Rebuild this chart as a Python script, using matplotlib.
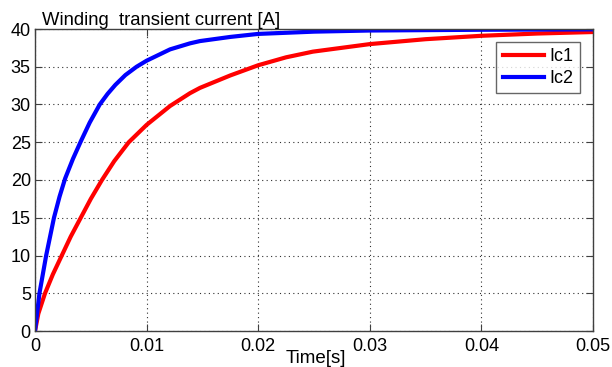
import matplotlib
matplotlib.use("Agg")
import matplotlib.pyplot as plt
import numpy as np

plt.rcParams['font.family'] = ['Liberation Sans', 'DejaVu Sans']

t_ic1 = [0, 0.0003, 0.0009, 0.0016, 0.0024, 0.0032, 0.0041, 0.005, 0.006, 0.0071,
         0.0084, 0.01, 0.0121, 0.01389, 0.01478, 0.0175, 0.02, 0.0225, 0.0249, 0.03,
         0.035, 0.04, 0.045, 0.05]
ic1 = [0, 2.3, 5, 7.5, 10, 12.5, 15, 17.5, 20, 22.5,
       25, 27.3, 29.8, 31.5, 32.2, 33.85, 35.2, 36.25, 37.0, 38.0,
       38.65, 39.1, 39.4, 39.6]

t_ic2 = [0, 0.0002, 0.0004, 0.0007, 0.001, 0.00135, 0.0017, 0.0022, 0.0027, 0.0034,
         0.0041, 0.0049, 0.0058, 0.0065, 0.0072, 0.0081, 0.0091, 0.01, 0.0121, 0.01389,
         0.01478, 0.0175, 0.02, 0.025, 0.03, 0.04, 0.05]
ic2 = [0, 2.5, 5, 7.5, 10, 12.5, 15, 17.8, 20.2, 22.8,
       25.1, 27.6, 30, 31.4, 32.6, 33.9, 35, 35.8, 37.3, 38.1,
       38.4, 38.95, 39.35, 39.65, 39.8, 39.9, 39.95]

xticks = [0, 0.01, 0.02, 0.03, 0.04, 0.05]
xtick_labels = ['0', '0.01', '0.02', '0.03', '0.04', '0.05']
yticks = [0, 5, 10, 15, 20, 25, 30, 35, 40]

W, H = 612, 367
fig = plt.figure(figsize=(W/100, H/100), dpi=100)
ax = fig.add_axes([35/W, 1-331/H, (593-35)/W, (331-29)/H])

ax.plot(t_ic1, ic1, color='#ff0000', lw=3.0, label='Ic1', solid_joinstyle='round')
ax.plot(t_ic2, ic2, color='#0000ff', lw=3.0, label='Ic2', solid_joinstyle='round')

ax.set_xlim(0, 0.05)
ax.set_ylim(0, 40)
ax.set_xticks(xticks)
ax.set_xticklabels(xtick_labels)
ax.set_yticks(yticks)
ax.grid(True, linestyle=(0, (1, 3)), color='#303030', lw=0.8)
ax.tick_params(direction='in', top=True, right=True, labelsize=13, length=5,
               color='#404040')
ax.tick_params(axis='x', pad=5)
ax.tick_params(axis='y', pad=3)
for s in ax.spines.values():
    s.set_color('#404040')
    s.set_linewidth(1.0)

fig.text(316/W, 1-350/H, 'Time[s]', fontsize=13.5, ha='center', va='top')
fig.text(42/W, 1-25/H, 'Winding  transient current [A]', fontsize=13.3, ha='left', va='baseline')

leg = ax.legend(loc='upper right', bbox_to_anchor=(580/W, 1-42/H),
                bbox_transform=fig.transFigure, fontsize=13, frameon=True,
                fancybox=False, handlelength=2.3, borderpad=0.35, labelspacing=0.25,
                handletextpad=0.3, borderaxespad=0)
leg.get_frame().set_edgecolor('#404040')
leg.get_frame().set_linewidth(1.0)

fig.savefig('out.png', dpi=100)
